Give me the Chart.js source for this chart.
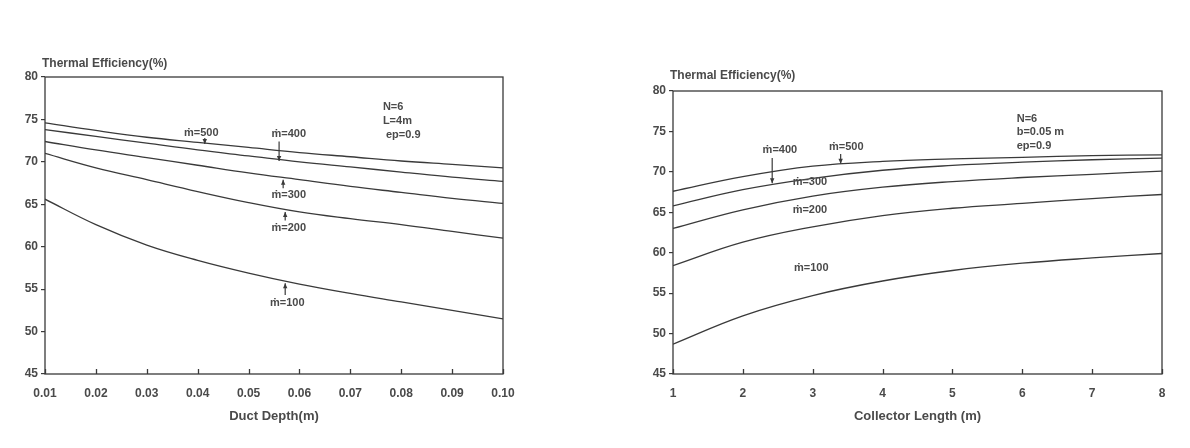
<!DOCTYPE html>
<html>
<head>
<meta charset="utf-8">
<script src="https://cdn.jsdelivr.net/npm/chart.js@4.4.1/dist/chart.umd.min.js"></script>
<style>
  html,body{margin:0;padding:0;background:#fff;}
  body{width:1190px;height:448px;position:relative;overflow:hidden;}
  canvas{position:absolute;top:0;}
  #c1{left:0;}
  #c2{left:620px;}
</style>
</head>
<body>
<canvas id="c1" width="560" height="448"></canvas>
<canvas id="c2" width="570" height="448"></canvas>
<script>
// ---------- DATA ----------
const depthTicks = [0.01, 0.02, 0.03, 0.04, 0.05, 0.06, 0.07, 0.08, 0.09, 0.10];
const lengthTicks = [1, 2, 3, 4, 5, 6, 7, 8];
const effTicks = [45, 50, 55, 60, 65, 70, 75, 80];

// Left panel: Thermal efficiency vs duct depth (N=6, L=4m, ep=0.9)
const depth = [0.01, 0.02, 0.03, 0.04, 0.05, 0.06, 0.07, 0.08, 0.09, 0.10];
const depthM500 = [74.6, 73.7, 72.9, 72.3, 71.7, 71.1, 70.6, 70.1, 69.7, 69.3];
const depthM400 = [73.8, 73.0, 72.2, 71.4, 70.7, 70.0, 69.4, 68.8, 68.2, 67.7];
const depthM300 = [72.4, 71.4, 70.5, 69.6, 68.7, 67.9, 67.1, 66.4, 65.7, 65.1];
const depthM200 = [71.0, 69.3, 67.9, 66.5, 65.2, 64.1, 63.3, 62.6, 61.8, 61.0];
const depthM100 = [65.6, 62.6, 60.2, 58.4, 56.9, 55.6, 54.5, 53.5, 52.5, 51.5];

// Right panel: Thermal efficiency vs collector length (N=6, b=0.05 m, ep=0.9)
const length = [1, 2, 3, 4, 5, 6, 7, 8];
const lenM500 = [67.6, 69.4, 70.7, 71.3, 71.6, 71.8, 72.0, 72.1];
const lenM400 = [65.8, 67.8, 69.2, 70.2, 70.8, 71.2, 71.5, 71.7];
const lenM300 = [63.0, 65.3, 67.0, 68.1, 68.8, 69.3, 69.7, 70.1];
const lenM200 = [58.4, 61.3, 63.2, 64.6, 65.5, 66.1, 66.7, 67.2];
const lenM100 = [48.7, 52.2, 54.7, 56.5, 57.8, 58.7, 59.35, 59.9];

// ---------- STYLE ----------
const FONT = '"Liberation Sans", Arial, "DejaVu Sans", sans-serif';
const INK = '#3a3a3a';
const TXT = '#4a4a4a';

// annotation specs (in data units)
const leftNotes = [
  {text: 'ṁ=500', x: 0.0407, y: 73.4},
  {text: 'ṁ=400', x: 0.0579, y: 73.3},
  {text: 'ṁ=300', x: 0.0579, y: 66.1},
  {text: 'ṁ=200', x: 0.0579, y: 62.2},
  {text: 'ṁ=100', x: 0.0576, y: 53.4}
];
const leftArrows = [
  {x: 0.0414, y1: 72.8, y2: 72.1},
  {x: 0.0560, y1: 72.4, y2: 70.1},
  {x: 0.0568, y1: 66.9, y2: 67.9},
  {x: 0.0572, y1: 63.1, y2: 64.1},
  {x: 0.0572, y1: 54.3, y2: 55.7}
];
const leftInfo = {lines: ['N=6', 'L=4m', ' ep=0.9'], x: 0.0764, y: 76.5, step: 1.65};

const rightNotes = [
  {text: 'ṁ=400', x: 2.53, y: 72.7},
  {text: 'ṁ=500', x: 3.48, y: 73.1},
  {text: 'ṁ=300', x: 2.96, y: 68.7},
  {text: 'ṁ=200', x: 2.96, y: 65.3},
  {text: 'ṁ=100', x: 2.98, y: 58.1}
];
const rightArrows = [
  {x: 2.42, y1: 71.7, y2: 68.6},
  {x: 3.40, y1: 72.2, y2: 71.0}
];
const rightInfo = {lines: ['N=6', 'b=0.05 m', 'ep=0.9'], x: 5.92, y: 76.6, step: 1.7};

function series(xs, ys) { return xs.map((v, i) => ({x: v, y: ys[i]})); }
function ds(label, xs, ys) {
  return {
    label, data: series(xs, ys),
    borderColor: INK, borderWidth: 1.3, pointRadius: 0,
    tension: 0.4, fill: false
  };
}

const decoPlugin = {
  id: 'deco',
  afterDatasetsDraw(chart, args, o) {
    const {ctx, chartArea: a, scales: {x, y}} = chart;
    ctx.save();
    // frame
    ctx.strokeStyle = INK; ctx.lineWidth = 1.3;
    ctx.strokeRect(a.left, a.top, a.width, a.height);
    // inward x ticks
    ctx.beginPath();
    x.ticks.forEach(t => {
      const px = Math.round(x.getPixelForValue(t.value)) + 0.5;
      ctx.moveTo(px, a.bottom); ctx.lineTo(px, a.bottom - 5);
    });
    ctx.stroke();
    // y title
    ctx.fillStyle = TXT;
    ctx.font = 'bold 12px ' + FONT;
    ctx.textAlign = 'left'; ctx.textBaseline = 'middle';
    ctx.fillText(o.yTitle, a.left - 3, a.top + o.yTitleDy);
    // notes
    ctx.font = 'bold 11px ' + FONT;
    ctx.textAlign = 'center';
    o.notes.forEach(n => ctx.fillText(n.text, x.getPixelForValue(n.x), y.getPixelForValue(n.y)));
    // arrows
    ctx.lineWidth = 1.2; ctx.strokeStyle = INK; ctx.fillStyle = INK;
    o.arrows.forEach(ar => {
      const px = x.getPixelForValue(ar.x);
      const p1 = y.getPixelForValue(ar.y1), p2 = y.getPixelForValue(ar.y2);
      const dir = p2 > p1 ? 1 : -1;
      ctx.beginPath(); ctx.moveTo(px, p1); ctx.lineTo(px, p2); ctx.stroke();
      ctx.beginPath(); ctx.moveTo(px, p2); ctx.lineTo(px - 2.2, p2 - dir * 5); ctx.lineTo(px + 2.2, p2 - dir * 5); ctx.closePath(); ctx.fill();
    });
    // info block
    ctx.fillStyle = TXT;
    ctx.font = 'bold 11px ' + FONT;
    ctx.textAlign = 'left';
    o.info.lines.forEach((s, i) => ctx.fillText(s, x.getPixelForValue(o.info.x), y.getPixelForValue(o.info.y - i * o.info.step)));
    ctx.restore();
  }
};

function makeChart(id, cfg) {
  return new Chart(document.getElementById(id), {
    type: 'line',
    data: {datasets: cfg.datasets},
    options: {
      responsive: false, animation: false, devicePixelRatio: 1,
      layout: {padding: cfg.padding},
      plugins: {legend: {display: false}, tooltip: {enabled: false},
        deco: {yTitle: 'Thermal Efficiency(%)', yTitleDy: cfg.yTitleDy, notes: cfg.notes, arrows: cfg.arrows, info: cfg.info}},
      scales: {
        x: {
          type: 'linear', min: cfg.xTicks[0], max: cfg.xTicks[cfg.xTicks.length - 1],
          afterBuildTicks: s => { s.ticks = cfg.xTicks.map(v => ({value: v})); },
          afterFit: s => { s.height = 74; },
          grid: {display: false, drawTicks: false},
          border: {display: false},
          ticks: {padding: 12, color: TXT, font: {family: FONT, size: 12, weight: 'bold'},
                  autoSkip: false, maxRotation: 0, callback: v => cfg.xFmt(v)},
          title: {display: true, text: cfg.xTitle, color: TXT, font: {family: FONT, size: 13, weight: 'bold'},
                  padding: {top: 0, bottom: 24}}
        },
        y: {
          type: 'linear', min: 45, max: 80,
          afterBuildTicks: s => { s.ticks = effTicks.map(v => ({value: v})); },
          afterFit: s => { s.width = cfg.yWidth; },
          grid: {drawOnChartArea: false, drawTicks: true, tickLength: 4, color: INK, lineWidth: 1.2},
          border: {display: false},
          ticks: {padding: 3, color: TXT, font: {family: FONT, size: 12, weight: 'bold'}}
        }
      }
    },
    plugins: [decoPlugin]
  });
}

makeChart('c1', {
  datasets: [ds('ṁ=500', depth, depthM500), ds('ṁ=400', depth, depthM400), ds('ṁ=300', depth, depthM300),
             ds('ṁ=200', depth, depthM200), ds('ṁ=100', depth, depthM100)],
  padding: {left: 0, top: 77, right: 57, bottom: 0},
  yWidth: 45, yTitleDy: -13,
  xTicks: depthTicks, xFmt: v => v.toFixed(2), xTitle: 'Duct Depth(m)',
  notes: leftNotes, arrows: leftArrows, info: leftInfo
});

makeChart('c2', {
  datasets: [ds('ṁ=500', length, lenM500), ds('ṁ=400', length, lenM400), ds('ṁ=300', length, lenM300),
             ds('ṁ=200', length, lenM200), ds('ṁ=100', length, lenM100)],
  padding: {left: 0, top: 91, right: 28, bottom: 0},
  yWidth: 53, yTitleDy: -15,
  xTicks: lengthTicks, xFmt: v => String(v), xTitle: 'Collector Length (m)',
  notes: rightNotes, arrows: rightArrows, info: rightInfo
});
</script>
</body>
</html>
